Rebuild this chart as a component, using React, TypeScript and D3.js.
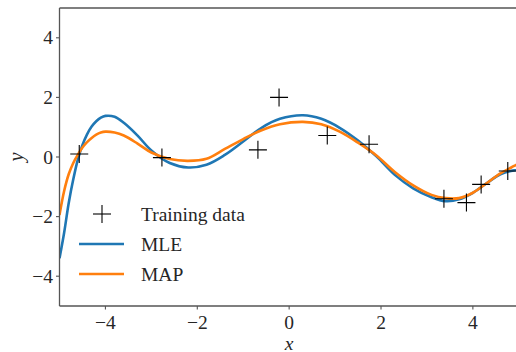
import React from "react";
import * as d3 from "d3";

const trainX = [-4.57, -2.77, -0.68, -0.22, 0.83, 1.74, 3.37, 3.86, 4.18, 4.76];
const trainY = [0.1, -0.02, 0.24, 2.0, 0.72, 0.43, -1.4, -1.53, -0.92, -0.47];

const curveX = [-5, -4.9, -4.8, -4.7, -4.6, -4.5, -4.4, -4.3, -4.2, -4.1, -4.0, -3.8, -3.6, -3.3, -3.0, -2.6, -2.2, -1.8, -1.4, -1.0, -0.6, -0.2, 0.3, 0.7, 1.1, 1.5, 1.9, 2.3, 2.7, 3.1, 3.4, 3.7, 4.0, 4.3, 4.6, 4.9, 5.0];
const mleY = [-3.4, -2.55, -1.55, -0.75, -0.08, 0.4, 0.76, 1.02, 1.2, 1.32, 1.38, 1.35, 1.15, 0.72, 0.22, -0.2, -0.35, -0.26, 0.07, 0.52, 0.98, 1.28, 1.4, 1.28, 0.98, 0.55, 0.02, -0.6, -1.05, -1.35, -1.48, -1.42, -1.2, -0.88, -0.58, -0.45, -0.45];
const mapY = [-1.95, -1.15, -0.58, -0.2, 0.08, 0.32, 0.5, 0.64, 0.75, 0.82, 0.85, 0.82, 0.72, 0.45, 0.15, -0.07, -0.13, -0.06, 0.27, 0.6, 0.9, 1.1, 1.18, 1.1, 0.85, 0.48, 0.05, -0.5, -0.95, -1.27, -1.38, -1.38, -1.2, -0.88, -0.55, -0.3, -0.22];

const xTicks = [-4, -2, 0, 2, 4];
const yTicks = [-4, -2, 0, 2, 4];

const W = 516;
const H = 352;
const L = 59.5, R = 518.8, T = 8, B = 306;
const FONT = "'Liberation Serif', 'DejaVu Serif', serif";
const FS = 19.5;
const SPINE = "#555";

function fmt(v: number) {
  return v < 0 ? "\u2212" + Math.abs(v) : String(v);
}

export default function App() {
  const x = d3.scaleLinear().domain([-5, 5]).range([L, R]);
  const y = d3.scaleLinear().domain([-5, 5]).range([B, T]);
  const line = (ys: number[]) =>
    d3
      .line<number>()
      .x((_, i) => x(curveX[i]))
      .y((d) => y(d))
      .curve(d3.curveCatmullRom.alpha(0.5))(ys) || "";
  const cs = 9;
  return (
    <svg width={W} height={H} style={{ position: "absolute", left: 0, top: 0, background: "#fff" }}>
      <defs>
        <clipPath id="plot">
          <rect x={L} y={T} width={R - L} height={B - T} />
        </clipPath>
      </defs>
      <g clipPath="url(#plot)">
        <path d={line(mleY)} fill="none" stroke="#1f77b4" strokeWidth={2.6} />
        <path d={line(mapY)} fill="none" stroke="#ff7f0e" strokeWidth={2.6} />
        {trainX.map((tx, i) => (
          <g key={i} stroke="#000" strokeWidth={1.1}>
            <line x1={x(tx) - cs} x2={x(tx) + cs} y1={y(trainY[i])} y2={y(trainY[i])} />
            <line x1={x(tx)} x2={x(tx)} y1={y(trainY[i]) - cs} y2={y(trainY[i]) + cs} />
          </g>
        ))}
      </g>
      {/* spines */}
      <line x1={L} x2={L} y1={T} y2={B} stroke={SPINE} strokeWidth={1.3} />
      <line x1={L} x2={R} y1={B} y2={B} stroke={SPINE} strokeWidth={1.3} />
      <line x1={L} x2={R} y1={T} y2={T} stroke={SPINE} strokeWidth={1.3} />
      <line x1={R} x2={R} y1={T} y2={B} stroke={SPINE} strokeWidth={1.3} />
      {/* x ticks */}
      {xTicks.map((t) => (
        <g key={"x" + t}>
          <line x1={x(t)} x2={x(t)} y1={B} y2={B + 3.5} stroke={SPINE} strokeWidth={1.1} />
          <text x={x(t)} y={B + 22.5} textAnchor="middle" fontFamily={FONT} fontSize={FS} fill="#262626">
            {fmt(t)}
          </text>
        </g>
      ))}
      {yTicks.map((t) => (
        <g key={"y" + t}>
          <line x1={L - 3.5} x2={L} y1={y(t)} y2={y(t)} stroke={SPINE} strokeWidth={1.1} />
          <text x={L - 6.5} y={y(t) + 6.5} textAnchor="end" fontFamily={FONT} fontSize={FS} fill="#262626">
            {fmt(t)}
          </text>
        </g>
      ))}
      <text x={x(0)} y={349.5} textAnchor="middle" fontFamily={FONT} fontSize={FS} fontStyle="italic" fill="#262626">
        x
      </text>
      <text
        transform={`translate(23, ${y(0)}) rotate(-90)`}
        textAnchor="middle"
        fontFamily={FONT}
        fontSize={FS + 1}
        fontStyle="italic"
        fill="#262626"
      >
        y
      </text>
      {/* legend */}
      <g stroke="#000" strokeWidth={1.1}>
        <line x1={102 - cs} x2={102 + cs} y1={214} y2={214} />
        <line x1={102} x2={102} y1={214 - cs} y2={214 + cs} />
      </g>
      <line x1={79} x2={124} y1={244} y2={244} stroke="#1f77b4" strokeWidth={2.6} />
      <line x1={79} x2={124} y1={274} y2={274} stroke="#ff7f0e" strokeWidth={2.6} />
      <text x={141} y={221} fontFamily={FONT} fontSize={FS} fill="#262626">Training data</text>
      <text x={141} y={251} fontFamily={FONT} fontSize={FS} fill="#262626">MLE</text>
      <text x={141} y={281} fontFamily={FONT} fontSize={FS} fill="#262626">MAP</text>
    </svg>
  );
}
